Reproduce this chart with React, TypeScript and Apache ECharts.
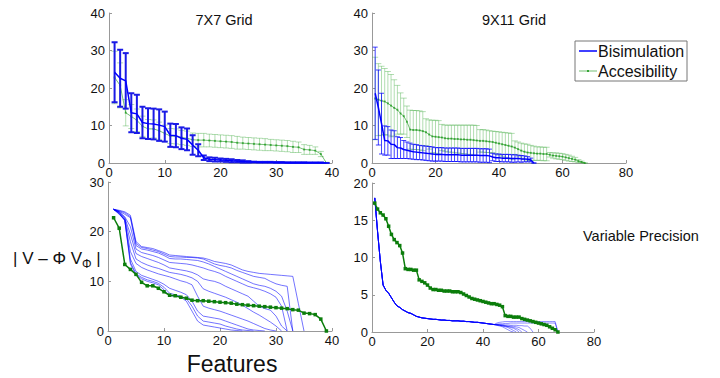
import React, { useEffect, useRef } from "react";
import * as echarts from "echarts";

// ---- 7X7 grid (top-left) ----
const bis7 = [24.2, 22.6, 21.9, 13.4, 13.1, 10.8, 10.5, 10.4, 10.1, 9.7, 7.4, 7.3, 6.6, 6.3, 4.8, 3.4, 1.4, 1.0, 0.9, 0.8, 0.7, 0.6, 0.5, 0.4, 0.3, 0.25, 0.2, 0.2, 0.2, 0.15, 0.15, 0.1, 0.1, 0.1, 0.1, 0.05, 0.05, 0.05, 0];
const bis7Err = [8.0, 7.6, 7.4, 5.2, 5.1, 4.2, 4.1, 4.1, 4.2, 4.0, 3.1, 3.1, 2.9, 2.9, 2.6, 1.6, 0.6, 0.5, 0.5, 0.4, 0.4, 0.4, 0.3, 0.3, 0.2, 0.1, 0.1, 0.1, 0.1, 0.1, 0.1, 0.1, 0.1, 0.1, 0.1, 0.1, 0.1, 0.1, 0];
const acc7 = [22.8, 20.7, 13.4, 12.4, 11.4, 9.8, 9.1, 9.1, 8.6, 7.9, 7.2, 7.1, 6.8, 6.6, 6.2, 6.1, 6.1, 6.0, 5.9, 5.8, 5.7, 5.6, 5.4, 5.3, 5.2, 5.1, 5.0, 4.9, 4.8, 4.7, 4.6, 4.5, 4.3, 4.2, 3.6, 3.5, 3.3, 2.4, 0];
const acc7Err = [7.0, 6.0, 3.5, 3.2, 3.0, 2.7, 2.5, 2.4, 2.3, 2.2, 2.0, 2.0, 1.9, 1.9, 1.8, 1.8, 1.8, 1.7, 1.7, 1.7, 1.7, 1.7, 1.7, 1.6, 1.6, 1.6, 1.6, 1.6, 1.5, 1.5, 1.5, 1.5, 1.5, 1.4, 1.3, 1.2, 1.0, 0.7, 0.2];

// ---- 9X11 grid (top-right) ----
const bis11 = [18.6, 14.8, 10.5, 6.0, 5.9, 5.0, 4.9, 4.1, 4.0, 3.6, 3.4, 3.2, 3.0, 2.9, 2.8, 2.7, 2.6, 2.5, 2.4, 2.3, 2.3, 2.3, 2.2, 2.2, 2.2, 2.2, 2.2, 2.1, 2.1, 2.1, 2.1, 2.1, 2.1, 2.0, 2.0, 2.0, 1.9, 1.6, 1.4, 1.4, 1.3, 1.3, 1.3, 1.2, 1.2, 1.2, 1.1, 1.1, 1.0, 0.8, 0];
const bis11Err = [12.3, 10.0, 8.1, 3.9, 3.8, 3.8, 3.7, 2.9, 2.8, 2.4, 2.2, 2.1, 2.0, 2.0, 1.9, 1.9, 1.9, 1.9, 1.9, 1.8, 1.8, 1.8, 1.8, 1.8, 1.8, 1.8, 1.8, 1.8, 1.8, 1.8, 1.8, 1.8, 1.8, 1.8, 1.8, 1.8, 1.8, 1.0, 1.0, 1.0, 1.0, 1.0, 1.0, 1.0, 1.0, 0.9, 0.9, 0.8, 0.7, 0.5, 0];
const acc11Top = [17.2, 16.9, 16.6, 16.4, 15.9, 15.3, 14.7, 14.2, 13.2, 12.5, 11.0, 8.9, 8.8, 8.8, 8.7, 8.5, 8.2, 7.6, 7.1, 7.0, 6.9, 6.8, 6.6, 6.5, 6.5, 6.4, 6.4, 6.3, 6.3, 6.2, 6.2, 6.1, 6.0, 5.9, 5.9, 5.8, 5.7, 5.6, 5.4, 5.2, 5.0, 4.8, 4.6, 4.4, 4.1, 3.7, 3.3, 3.0, 2.8, 2.7, 2.6, 2.5, 2.5, 2.4, 2.4, 2.2, 2.0, 1.9, 1.8, 1.7, 1.5, 1.3, 1.1, 0.9, 0.5, 0.3, 0];
const acc11TopErr = [11.0, 9.6, 9.2, 8.8, 8.5, 8.3, 7.5, 6.5, 5.5, 4.8, 4.2, 5.2, 5.2, 5.2, 5.2, 5.2, 3.6, 3.9, 4.3, 4.4, 4.4, 3.5, 3.5, 3.6, 3.6, 3.7, 3.7, 3.8, 3.8, 3.9, 3.9, 4.0, 4.0, 3.0, 3.0, 3.0, 2.9, 2.9, 3.0, 3.1, 3.2, 3.3, 3.4, 3.5, 1.8, 1.9, 2.0, 2.1, 2.2, 2.0, 1.9, 1.8, 1.8, 1.8, 1.8, 0.6, 0.7, 0.8, 0.8, 0.8, 0.8, 0.8, 0.7, 0.6, 0.4, 0.2, 0];

// ---- variable precision 7X7 (bottom-left) ----
const vp7a = [24.5, 24.3, 24.0, 23.3, 18.0, 17.0, 16.8, 16.6, 16.2, 15.8, 15.3, 15.2, 15.1, 15.0, 14.9, 14.8, 14.7, 14.4, 14.0, 13.8, 13.6, 13.3, 12.8, 12.3, 12.0, 11.8, 11.6, 11.5, 11.4, 11.3, 11.2, 11.1, 11.0, 5.5, 0];
const vp7b = [24.5, 24.2, 23.8, 23.0, 17.6, 16.8, 16.6, 16.3, 16.0, 15.5, 15.0, 14.9, 14.9, 14.8, 14.8, 14.7, 14.5, 14.0, 13.5, 13.2, 13.0, 12.7, 12.2, 11.8, 11.4, 11.0, 10.8, 10.6, 10.0, 9.5, 9.2, 9.0, 0];
const vp7c = [24.5, 24.1, 23.5, 22.8, 17.2, 16.5, 16.3, 16.0, 15.7, 15.2, 14.6, 14.5, 14.5, 14.4, 14.3, 14.2, 13.9, 13.5, 13.0, 12.5, 12.0, 11.5, 11.0, 10.5, 10.0, 9.5, 9.2, 9.0, 8.6, 8.0, 7.0, 4.0, 0];
const vp7d = [24.5, 24.0, 23.0, 21.0, 16.5, 15.8, 15.5, 15.2, 14.8, 14.3, 13.8, 13.7, 13.6, 13.5, 13.3, 13.0, 12.7, 12.3, 12.0, 11.6, 11.0, 10.5, 10.0, 9.5, 9.0, 8.7, 8.4, 8.0, 7.5, 6.8, 5.0, 0];
const vp7e = [24.5, 24.0, 22.8, 19.5, 15.6, 15.0, 14.6, 14.2, 13.8, 13.3, 12.7, 12.5, 12.3, 12.1, 11.8, 11.3, 10.5, 10.2, 10.0, 9.6, 9.0, 8.5, 8.0, 7.5, 7.0, 6.0, 5.0, 4.5, 4.2, 3.0, 1.0, 0];
const vp7f = [24.5, 23.9, 22.6, 18.0, 14.5, 13.8, 13.3, 12.9, 12.6, 12.2, 11.8, 11.6, 11.4, 11.1, 10.7, 10.0, 8.5, 8.0, 7.6, 7.2, 6.8, 6.3, 5.8, 5.2, 4.5, 3.8, 3.2, 2.5, 1.8, 1.0, 0];
const vp7g = [24.5, 23.8, 22.4, 16.0, 13.6, 12.8, 12.3, 11.9, 11.5, 11.2, 10.9, 10.5, 10.1, 9.8, 9.3, 7.0, 5.0, 4.6, 4.3, 4.0, 3.6, 3.2, 2.8, 2.4, 2.0, 1.5, 1.0, 0.5, 0.2, 0];
const vp7h = [24.5, 23.7, 22.3, 14.5, 12.0, 11.2, 10.8, 10.4, 10.0, 9.4, 8.6, 8.2, 7.8, 7.3, 6.0, 4.0, 3.0, 2.8, 2.6, 2.4, 2.0, 1.6, 1.2, 0.8, 0.4, 0.2, 0.1, 0];
const vp7i = [24.5, 23.6, 22.3, 13.8, 11.5, 10.8, 10.3, 10.0, 9.6, 8.8, 7.6, 7.3, 7.0, 6.5, 5.0, 3.0, 2.0, 1.8, 1.6, 1.4, 1.0, 0.7, 0.4, 0.2, 0.1, 0];
const vp7j = [24.5, 23.5, 22.3, 13.5, 11.3, 10.5, 10.0, 9.7, 9.3, 8.3, 7.1, 7.0, 6.8, 6.0, 4.0, 2.0, 1.2, 1.0, 0.8, 0.6, 0.4, 0.2, 0.1, 0];
const vp7Lines = [vp7a, vp7b, vp7c, vp7d, vp7e, vp7f, vp7g, vp7h, vp7i, vp7j];

// ---- variable precision 9X11 (bottom-right) ----
const vp11Head = [18.0, 13.5, 9.5, 6.3, 5.6, 5.2, 4.6, 4.0, 3.5, 3.3, 3.0, 2.8, 2.6, 2.5, 2.3, 2.1, 2.0, 1.9, 1.85, 1.8, 1.75, 1.7, 1.7, 1.65, 1.6, 1.6, 1.55, 1.55, 1.5, 1.5, 1.5, 1.45, 1.45, 1.4, 1.4, 1.35, 1.3, 1.3, 1.25, 1.2, 1.15, 1.1, 1.05, 1.0];
const vp11TailA = [0.9, 0.8, 0.7, 0.5, 0.3, 0.1, 0];
const vp11TailB = [0.95, 0.9, 0.8, 0.7, 0.6, 0.4, 0.2, 0];
const vp11TailC = [0.95, 0.9, 0.85, 0.8, 0.7, 0.6, 0.5, 0.3, 0];
const vp11TailD = [0.95, 0.9, 0.85, 0.8, 0.75, 0.7, 0.6, 0.5, 0.3, 0];
const vp11TailE = [1.0, 0.95, 0.9, 0.85, 0.8, 0.8, 0.75, 0.7, 0.6, 0.4, 0.2, 0];
const vp11TailF = [1.0, 1.0, 1.0, 0.95, 0.95, 0.9, 0.9, 0.9, 0.85, 0.85, 0.8, 0.8, 0.5, 0];
const vp11TailG = [1.05, 1.1, 1.1, 1.15, 1.15, 1.2, 1.2, 1.2, 1.2, 1.2, 1.2, 1.2, 1.2, 1.2, 1.2, 1.2, 1.2, 1.2, 1.2, 1.2, 1.2, 1.2, 0];
const vp11TailH = [1.2, 1.3, 1.35, 1.4, 1.4, 1.4, 1.4, 1.4, 1.4, 1.4, 1.4, 1.4, 1.4, 1.4, 1.4, 1.4, 1.4, 1.4, 1.4, 1.4, 1.4, 1.4, 0];
const vp11Tails = [vp11TailA, vp11TailB, vp11TailC, vp11TailD, vp11TailE, vp11TailF, vp11TailG, vp11TailH];
const acc11 = [17.3, 16.5, 16.0, 15.7, 15.2, 14.2, 13.1, 12.4, 12.0, 11.6, 10.6, 8.5, 8.4, 8.4, 8.3, 8.3, 7.0, 6.8, 6.6, 6.3, 5.9, 5.7, 5.7, 5.6, 5.6, 5.5, 5.5, 5.5, 5.4, 5.4, 5.4, 5.3, 5.1, 4.9, 4.7, 4.5, 4.4, 4.3, 4.2, 4.1, 4.0, 3.9, 3.8, 3.8, 3.7, 3.6, 3.4, 2.2, 2.1, 2.1, 2.0, 2.0, 2.0, 1.8, 1.7, 1.6, 1.5, 1.4, 1.3, 1.2, 1.1, 1.0, 0.9, 0.7, 0.5, 0.3, 0];

const FONT = "Liberation Sans, Arial, Helvetica, sans-serif";
const BLUE = "#0000ff";
const DKGREEN = "#0b7d0b";

const pts = (arr: number[]) => arr.map((v, i) => [i + 1, v]);

function errSeries(xi: number, yi: number, means: number[], errs: number[], color: string, lw: number, cap: number, z: number) {
  return {
    type: "custom",
    xAxisIndex: xi,
    yAxisIndex: yi,
    z,
    silent: true,
    data: means.map((m, i) => [i + 1, Math.max(0, m - errs[i]), m + errs[i]]),
    encode: { x: 0, y: [1, 2] },
    renderItem: (params: any, api: any) => {
      const x = api.value(0);
      const lo = api.coord([x, api.value(1)]);
      const hi = api.coord([x, api.value(2)]);
      const st = { stroke: color, lineWidth: lw, fill: "none" };
      return {
        type: "group",
        children: [
          { type: "line", shape: { x1: lo[0], y1: lo[1], x2: hi[0], y2: hi[1] }, style: st },
          { type: "line", shape: { x1: lo[0] - cap, y1: lo[1], x2: lo[0] + cap, y2: lo[1] }, style: st },
          { type: "line", shape: { x1: hi[0] - cap, y1: hi[1], x2: hi[0] + cap, y2: hi[1] }, style: st },
        ],
      };
    },
  };
}

function lineSeries(xi: number, yi: number, data: number[][], color: string, width: number, symSize: number, z: number) {
  return {
    type: "line",
    xAxisIndex: xi,
    yAxisIndex: yi,
    z,
    silent: true,
    data,
    symbol: symSize > 0 ? "rect" : "none",
    symbolSize: symSize,
    showSymbol: symSize > 0,
    lineStyle: { color, width },
    itemStyle: { color },
  };
}

function xAxis(gi: number, max: number, interval: number) {
  return {
    type: "value",
    gridIndex: gi,
    min: 0,
    max,
    interval,
    axisLine: { show: true, onZero: false, lineStyle: { color: "#999", width: 1 } },
    axisTick: { show: true, inside: true, length: 3, lineStyle: { color: "#999" } },
    splitLine: { show: false },
    axisLabel: { color: "#111", fontSize: 13, fontFamily: FONT, margin: 3 },
  };
}
function yAxis(gi: number, max: number, interval: number) {
  return {
    type: "value",
    gridIndex: gi,
    min: 0,
    max,
    interval,
    axisLine: { show: true, onZero: false, lineStyle: { color: "#999", width: 1 } },
    axisTick: { show: true, inside: true, length: 3, lineStyle: { color: "#999" } },
    splitLine: { show: false },
    axisLabel: { color: "#111", fontSize: 13, fontFamily: FONT, margin: 4 },
  };
}

export default function App() {
  const ref = useRef<HTMLDivElement>(null);
  useEffect(() => {
    if (!ref.current) return;
    const chart = echarts.init(ref.current, null, { renderer: "svg" });
    const series: any[] = [];
    // top-left
    series.push(errSeries(0, 0, acc7, acc7Err, "rgba(60,170,60,0.4)", 1, 3, 2));
    series.push(lineSeries(0, 0, pts(acc7), "rgba(0,140,0,0.55)", 1, 2, 3));
    series.push(errSeries(0, 0, bis7, bis7Err, "#1a1ae6", 2, 3, 4));
    series.push(lineSeries(0, 0, pts(bis7), BLUE, 1.5, 0, 5));
    // top-right
    series.push(errSeries(1, 1, acc11Top, acc11TopErr, "rgba(60,170,60,0.4)", 1, 3, 2));
    series.push(lineSeries(1, 1, pts(acc11Top), "rgba(0,140,0,0.55)", 1, 2, 3));
    series.push(errSeries(1, 1, bis11, bis11Err, "rgba(0,0,255,0.75)", 1, 2.5, 4));
    series.push(lineSeries(1, 1, pts(bis11), BLUE, 1.5, 0, 5));
    // bottom-left
    vp7Lines.forEach((l) => series.push(lineSeries(2, 2, pts(l), "rgba(0,0,255,0.55)", 1, 0, 3)));
    series.push(lineSeries(2, 2, pts(acc7), DKGREEN, 1.5, 3.5, 5));
    // bottom-right
    vp11Tails.forEach((t) => series.push(lineSeries(3, 3, pts(vp11Head.concat(t)), "rgba(0,0,255,0.45)", 1, 0, 3)));
    series.push(lineSeries(3, 3, pts(acc11), DKGREEN, 1.5, 3.5, 5));

    const txt = (x: number, y: number, text: string, size: number, align = "center") => ({
      type: "text",
      x,
      y,
      style: { text, fontSize: size, fontFamily: FONT, fill: "#111", align, verticalAlign: "middle" },
    });

    chart.setOption({
      animation: false,
      backgroundColor: "#fff",
      grid: [
        { left: 109, top: 13, width: 223, height: 150 },
        { left: 372, top: 13, width: 254, height: 150 },
        { left: 108, top: 182, width: 224, height: 149 },
        { left: 372, top: 183, width: 222, height: 149 },
      ],
      xAxis: [xAxis(0, 40, 10), xAxis(1, 80, 20), xAxis(2, 40, 10), xAxis(3, 80, 20)],
      yAxis: [yAxis(0, 40, 10), yAxis(1, 40, 10), yAxis(2, 30, 10), yAxis(3, 20, 5)],
      series,
      graphic: [
        txt(224, 20, "7X7 Grid", 14.5),
        txt(514, 20, "9X11 Grid", 14.5),
        txt(583, 236, "Variable Precision", 14.5, "left"),
        txt(232, 364, "Features", 23),
        {
          type: "text",
          x: 13,
          y: 258,
          style: {
            text: "{m|| V – Φ V}{s|Φ}{m| |}",
            fontFamily: FONT,
            fill: "#111",
            verticalAlign: "middle",
            rich: {
              m: { fontSize: 17, fontFamily: FONT, fill: "#111" },
              s: { fontSize: 12, fontFamily: FONT, fill: "#111", padding: [12, 0, 0, 0] },
            },
          },
        },
        { type: "rect", shape: { x: 575, y: 41, width: 112, height: 40 }, style: { fill: "#fff", stroke: "#777", lineWidth: 1 }, z: 10 },
        { type: "line", shape: { x1: 579, y1: 51, x2: 597, y2: 51 }, style: { stroke: BLUE, lineWidth: 1.5 }, z: 11 },
        { type: "line", shape: { x1: 579, y1: 71, x2: 597, y2: 71 }, style: { stroke: "rgba(0,140,0,0.55)", lineWidth: 1 }, z: 11 },
        { type: "rect", shape: { x: 587, y: 70, width: 2, height: 2 }, style: { fill: "rgba(0,140,0,0.7)" }, z: 11 },
        { type: "text", x: 598, y: 51, z: 11, style: { text: "Bisimulation", fontSize: 16, fontFamily: FONT, fill: "#111", verticalAlign: "middle" } },
        { type: "text", x: 598, y: 71, z: 11, style: { text: "Accesibility", fontSize: 16, fontFamily: FONT, fill: "#111", verticalAlign: "middle" } },
      ],
    });
    return () => chart.dispose();
  }, []);
  return <div ref={ref} style={{ position: "fixed", left: 0, top: 0, width: 720, height: 378 }} />;
}
